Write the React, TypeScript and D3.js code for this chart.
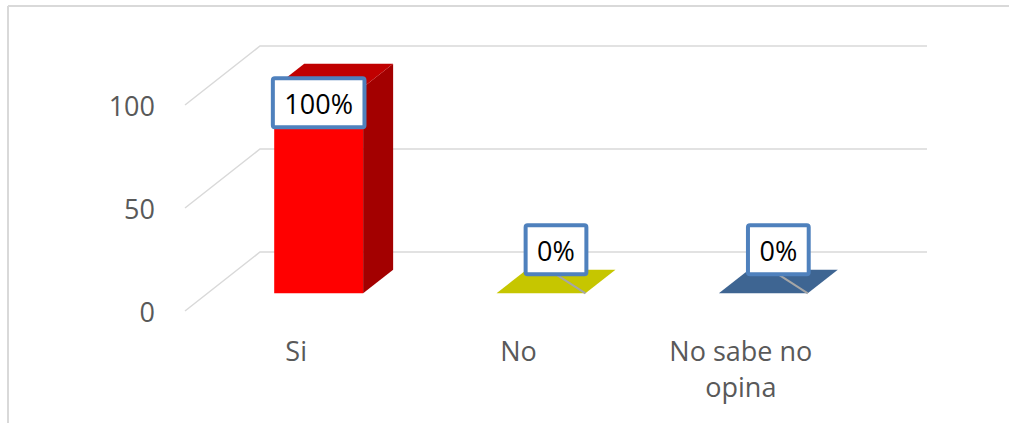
import React from "react";
import * as d3 from "d3";

const categories = ["Si", "No", "No sabe no opina"];
const values = [100, 0, 0];
const valueLabels = ["100%", "0%", "0%"];
const yTicks = [0, 50, 100];
const topColors = ["#c00000", "#c6c600", "#3e6592"];
const frontColors = ["#ff0000", "#ffff00", "#4f81bd"];
const sideColors = ["#a30000", "#a0a000", "#2f4f73"];

const W = 1009;
const H = 423;
const FONT = "'Open Sans', sans-serif";
const FS = 27;
const DX = 75;
const DY = -59;
const D0 = 0.3;
const D1 = 0.7;

function measure(text: string, size: number): number {
  const c = document.createElement("canvas");
  const ctx = c.getContext("2d");
  if (!ctx) return text.length * size * 0.55;
  ctx.font = `${size}px 'Open Sans'`;
  return ctx.measureText(text).width;
}

function wrap(text: string, maxW: number): string[] {
  const words = text.split(" ");
  const lines: string[] = [];
  let cur = "";
  for (const w of words) {
    const t = cur ? cur + " " + w : w;
    if (cur && measure(t, FS) > maxW) {
      lines.push(cur);
      cur = w;
    } else cur = t;
  }
  if (cur) lines.push(cur);
  return lines;
}

export default function App() {
  const x = d3.scaleBand<string>().domain(categories).range([185, 852]);
  const y = d3.scaleLinear().domain([0, 100]).range([311, 105]);
  const bw = x.bandwidth() * 0.4;
  const P = (px: number, py: number, d: number) => `${px + DX * d},${py + DY * d}`;

  return (
    <svg width={W} height={H} style={{ position: "absolute", left: 0, top: 0, background: "#fff" }}>
      <rect x={0} y={0} width={W} height={H} fill="#fff" />
      <line x1={8} y1={6} x2={W} y2={6} stroke="#d9d9d9" strokeWidth={2} />
      <line x1={8} y1={6} x2={8} y2={H} stroke="#d9d9d9" strokeWidth={2} />
      {yTicks.map((t) => (
        <g key={t}>
          <polyline
            points={`${185},${y(t)} ${185 + DX},${y(t) + DY} ${852 + DX},${y(t) + DY}`}
            fill="none"
            stroke="#d9d9d9"
            strokeWidth={1.5}
          />
          <text x={155} y={y(t) + 11} textAnchor="end" fontFamily={FONT} fontSize={FS} fill="#595959">
            {t}
          </text>
        </g>
      ))}
      {categories.map((c, i) => {
        const x0 = (x(c) as number) + (x.bandwidth() - bw) / 2;
        const x1 = x0 + bw;
        const yb = y(0);
        const yt = y(values[i]);
        const front = `${P(x0, yb, D0)} ${P(x1, yb, D0)} ${P(x1, yt, D0)} ${P(x0, yt, D0)}`;
        const side = `${P(x1, yb, D0)} ${P(x1, yb, D1)} ${P(x1, yt, D1)} ${P(x1, yt, D0)}`;
        const top = `${P(x0, yt, D0)} ${P(x1, yt, D0)} ${P(x1, yt, D1)} ${P(x0, yt, D1)}`;
        const tw = measure(valueLabels[i], FS);
        const boxW = tw + 23;
        const boxH = 49;
        const frontTop = yt + DY * D0;
        const inside = yb - yt > 60;
        const cx = inside ? (x0 + x1) / 2 + DX * D0 : (x0 + x1) / 2 + DX * 0.5;
        const by = inside ? frontTop - 9 : frontTop - 19 - boxH;
        const lines = wrap(c, x.bandwidth() * 0.9);
        const lx = (x(c) as number) + x.bandwidth() / 2;
        return (
          <g key={c}>
            {values[i] > 0 && (
              <>
                <polygon points={front} fill={frontColors[i]} />
                <polygon points={side} fill={sideColors[i]} />
              </>
            )}
            <polygon points={top} fill={topColors[i]} />
            {!inside && (
              <line
                x1={cx}
                y1={by + boxH}
                x2={x1 + DX * D0}
                y2={frontTop}
                stroke="#a6a6a6"
                strokeWidth={2}
              />
            )}
            <rect
              x={cx - boxW / 2}
              y={by}
              width={boxW}
              height={boxH}
              fill="#fff"
              stroke="#4f81bd"
              strokeWidth={4}
              rx={2}
            />
            <text x={cx} y={by + 36} textAnchor="middle" fontFamily={FONT} fontSize={FS} fill="#000">
              {valueLabels[i]}
            </text>
            <text textAnchor="middle" fontFamily={FONT} fontSize={FS} fill="#595959">
              {lines.map((l, k) => (
                <tspan key={k} x={lx} y={361 + k * 36}>
                  {l}
                </tspan>
              ))}
            </text>
          </g>
        );
      })}
    </svg>
  );
}
